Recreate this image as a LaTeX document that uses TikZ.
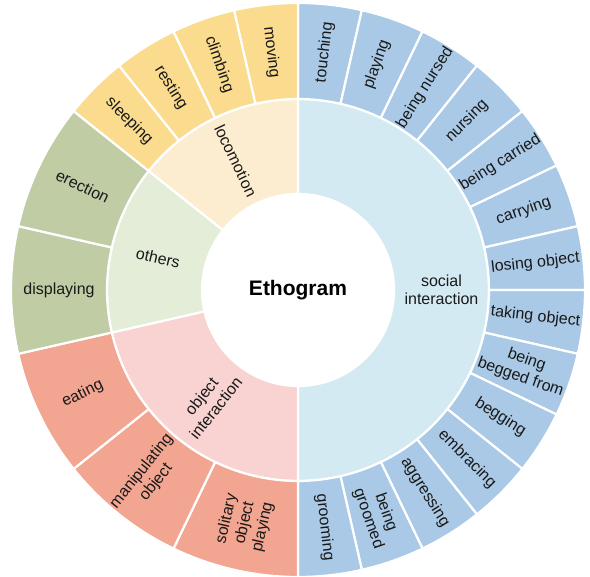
\documentclass[tikz,border=0pt]{standalone}
\usepackage{fontspec}
\setmainfont{Liberation Sans}

\definecolor{socialA}{HTML}{D4EAF3}
\definecolor{socialB}{HTML}{A9C9E6}
\definecolor{objectA}{HTML}{F9D2D2}
\definecolor{objectB}{HTML}{F2A590}
\definecolor{othersA}{HTML}{E3EDD8}
\definecolor{othersB}{HTML}{BFCCA4}
\definecolor{locoA}{HTML}{FDEDD0}
\definecolor{locoB}{HTML}{FBDC8F}

\tikzset{
  wedge/.style={draw=white, line width=2.2pt, line join=round},
  lbl/.style={font=\fontsize{16}{18.5}\selectfont, align=center, inner sep=0pt, text=black!90},
}

\begin{document}
\begin{tikzpicture}[x=1pt, y=1pt]
    \useasboundingbox (-298,-287) rectangle (292,290);
    \pgfmathsetmacro\secang{180/14}

    % inner ring: behaviour classes
    \foreach \a/\b/\txt/\col [count=\i] in {
        0/14/{social\\interaction}/socialA,
        14/20/{object\\interaction}/objectA,
        20/24/others/othersA,
        24/28/locomotion/locoA}{
        \pgfmathsetmacro\sa{90-\a*\secang}
        \pgfmathsetmacro\ea{90-\b*\secang}
        \pgfmathsetmacro\ma{(\sa+\ea)/2}
        \pgfmathsetmacro\rot{\ma<-90 ? \ma+180 : \ma}
        \path[wedge, fill=\col] (\sa:96) arc[start angle=\sa, end angle=\ea, radius=96]
            -- (\ea:191) arc[start angle=\ea, end angle=\sa, radius=191] -- cycle;
        \node[lbl, rotate=\rot] (class\i) at (\ma:143.5) {\txt};
    }

    % outer ring: single behaviours
    \foreach \a/\b/\txt/\col [count=\i] in {
        0/1/touching/socialB,
        1/2/playing/socialB,
        2/3/being nursed/socialB,
        3/4/nursing/socialB,
        4/5/being carried/socialB,
        5/6/carrying/socialB,
        6/7/losing object/socialB,
        7/8/taking object/socialB,
        8/9/{being\\begged from}/socialB,
        9/10/begging/socialB,
        10/11/embracing/socialB,
        11/12/aggressing/socialB,
        12/13/{being\\groomed}/socialB,
        13/14/grooming/socialB,
        14/16/{solitary\\object\\playing}/objectB,
        16/18/{manipulating\\object}/objectB,
        18/20/eating/objectB,
        20/22/displaying/othersB,
        22/24/erection/othersB,
        24/25/sleeping/locoB,
        25/26/resting/locoB,
        26/27/climbing/locoB,
        27/28/moving/locoB}{
        \pgfmathsetmacro\sa{90-\a*\secang}
        \pgfmathsetmacro\ea{90-\b*\secang}
        \pgfmathsetmacro\ma{(\sa+\ea)/2}
        \pgfmathsetmacro\rot{\ma<-90 ? \ma+180 : \ma}
        \path[wedge, fill=\col] (\sa:191) arc[start angle=\sa, end angle=\ea, radius=191]
            -- (\ea:287) arc[start angle=\ea, end angle=\sa, radius=287] -- cycle;
        \node[lbl, rotate=\rot] (leaf\i) at (\ma:239) {\txt};
    }

    \node[font=\bfseries\fontsize{21}{24}\selectfont] (core) at (0,0) {Ethogram};
\end{tikzpicture}
\end{document}
